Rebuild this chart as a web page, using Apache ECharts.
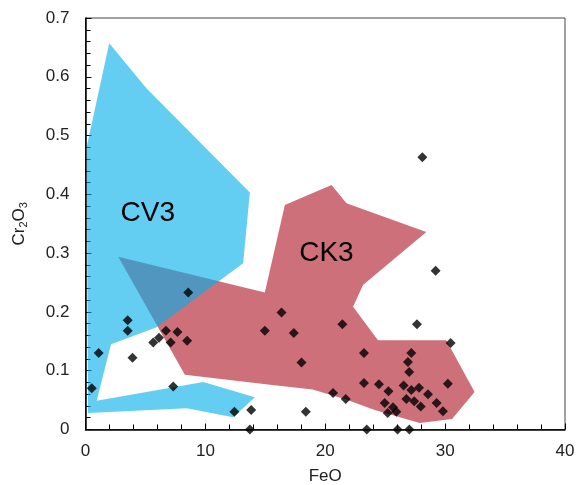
<!DOCTYPE html>
<html lang="en">
<head>
    <meta charset="UTF-8">
    <title>Cr2O3 vs FeO</title>
    <style>
        html, body { margin: 0; padding: 0; background: #fff; }
        #box { width: 577px; height: 485px; }
    </style>
</head>
<body>
    <div id="box"></div>
    <script src="https://cdn.jsdelivr.net/npm/echarts@6/dist/echarts.min.js"></script>
    <script>
        // CV3 field outline [FeO, Cr2O3]
        var cv3Field = [
            [1.98, 0.657], [5.1, 0.58], [13.71, 0.403], [13.15, 0.283], [5.93, 0.174],
            [2.13, 0.145], [0.93, 0.049], [9.82, 0.081], [14.13, 0.055], [12.32, 0.021],
            [8.43, 0.036], [0.21, 0.028], [0.1, 0.481]
        ];
        // CK3 field outline
        var ck3Field = [
            [2.73, 0.294], [14.96, 0.233], [16.63, 0.382], [20.52, 0.416], [21.77, 0.385],
            [28.43, 0.336], [23.15, 0.246], [22.32, 0.209], [24.4, 0.152], [30.1, 0.152],
            [32.46, 0.064], [30.58, 0.018], [27.88, 0.011], [24.13, 0.033], [21.62, 0.052],
            [18.96, 0.068], [15.4, 0.076], [8.29, 0.093]
        ];
        // field labels
        var cv3LabelPos = [5.2, 0.368];
        var ck3LabelPos = [20.1, 0.30];
        // measured grains
        var grains = [
            [0.52, 0.070], [1.10, 0.130], [3.52, 0.186], [3.52, 0.168], [3.92, 0.122],
            [5.65, 0.148], [6.13, 0.156], [6.71, 0.168], [7.10, 0.148], [7.67, 0.166],
            [7.32, 0.073], [8.57, 0.233], [8.48, 0.151], [12.42, 0.030], [13.82, 0.033],
            [13.71, 0.0], [14.96, 0.168], [16.35, 0.199], [17.38, 0.164], [18.02, 0.114],
            [18.38, 0.030], [20.65, 0.062], [21.43, 0.179], [21.71, 0.052], [23.23, 0.130],
            [23.23, 0.079], [23.46, 0.0], [24.48, 0.077], [25.27, 0.065], [24.96, 0.045],
            [25.65, 0.038], [25.21, 0.028], [25.93, 0.030], [26.03, 0.0], [26.54, 0.075],
            [27.02, 0.0], [27.18, 0.130], [26.9, 0.115], [27.0, 0.098], [27.18, 0.067],
            [27.82, 0.071], [26.77, 0.052], [27.42, 0.048], [27.96, 0.039], [28.57, 0.060],
            [29.29, 0.045], [29.82, 0.031], [30.23, 0.078], [30.46, 0.147], [27.65, 0.179],
            [29.21, 0.270], [28.1, 0.463]
        ];

        var chartDom = document.getElementById('box');
        var myChart = echarts.init(chartDom);

        // polygon drawn once, on the first data item, through the axes
        function fieldRender(points, fill, text, textPos) {
            return function (params, api) {
                if (params.dataIndex !== 0) return;
                var pts = points.map(function (p) { return api.coord(p); });
                var lp = api.coord(textPos);
                return {
                    type: 'group',
                    children: [
                        { type: 'polygon', shape: { points: pts }, style: { fill: fill } },
                        {
                            type: 'text', x: lp[0], y: lp[1],
                            style: {
                                text: text, fill: '#000', fontSize: 28,
                                fontFamily: 'Liberation Sans, Arial, sans-serif',
                                align: 'center', verticalAlign: 'middle'
                            }
                        }
                    ]
                };
            };
        }

        var labelFont = 'Liberation Sans, Arial, sans-serif';

        var option = {
            animation: false,
            grid: {
                left: 85.5,
                right: 12,
                top: 18,
                bottom: 55.5,
                outerBoundsMode: 'none',
                containLabel: false,
                show: true,
                borderColor: '#444',
                borderWidth: 1
            },
            xAxis: {
                type: 'value',
                min: 0,
                max: 40,
                interval: 10,
                name: 'FeO',
                nameLocation: 'middle',
                nameGap: 38,
                nameTextStyle: { fontSize: 17, color: '#222', fontFamily: labelFont },
                axisLine: { lineStyle: { color: '#000', width: 1.5 } },
                axisTick: { inside: true, length: 6, lineStyle: { color: '#000' } },
                minorTick: { show: true, splitNumber: 5, length: 5, lineStyle: { color: '#000' } },
                splitLine: { show: false },
                axisLabel: { fontSize: 17, color: '#222', margin: 13, fontFamily: labelFont }
            },
            yAxis: {
                type: 'value',
                min: 0,
                max: 0.7,
                interval: 0.1,
                name: '{m|Cr}{s|2}{m|O}{s|3}',
                nameLocation: 'middle',
                nameGap: 56,
                nameRotate: 90,
                nameTextStyle: {
                    color: '#222',
                    fontFamily: labelFont,
                    rich: {
                        m: { fontSize: 17, color: '#222', fontFamily: labelFont },
                        s: { fontSize: 11, color: '#222', fontFamily: labelFont, padding: [9, 0, 0, 0] }
                    }
                },
                axisLine: { lineStyle: { color: '#000', width: 1.5 } },
                axisTick: { inside: true, length: 6, lineStyle: { color: '#000' } },
                minorTick: { show: true, splitNumber: 5, length: 5, lineStyle: { color: '#000' } },
                splitLine: { show: false },
                axisLabel: { fontSize: 17, color: '#222', margin: 16, fontFamily: labelFont }
            },
            series: [
                {
                    name: 'CK3',
                    type: 'custom',
                    data: ck3Field,
                    encode: { x: 0, y: 1 },
                    renderItem: fieldRender(ck3Field, 'rgb(205,112,122)', 'CK3', ck3LabelPos),
                    z: 1
                },
                {
                    name: 'CV3',
                    type: 'custom',
                    data: cv3Field,
                    encode: { x: 0, y: 1 },
                    renderItem: fieldRender(cv3Field, 'rgba(5,174,234,0.62)', 'CV3', cv3LabelPos),
                    z: 2
                },
                {
                    name: 'grains',
                    type: 'scatter',
                    data: grains,
                    symbol: 'diamond',
                    symbolSize: 10,
                    clip: false,
                    itemStyle: { color: '#000' },
                    z: 5
                }
            ]
        };

        option && myChart.setOption(option);
    </script>
</body>
</html>
